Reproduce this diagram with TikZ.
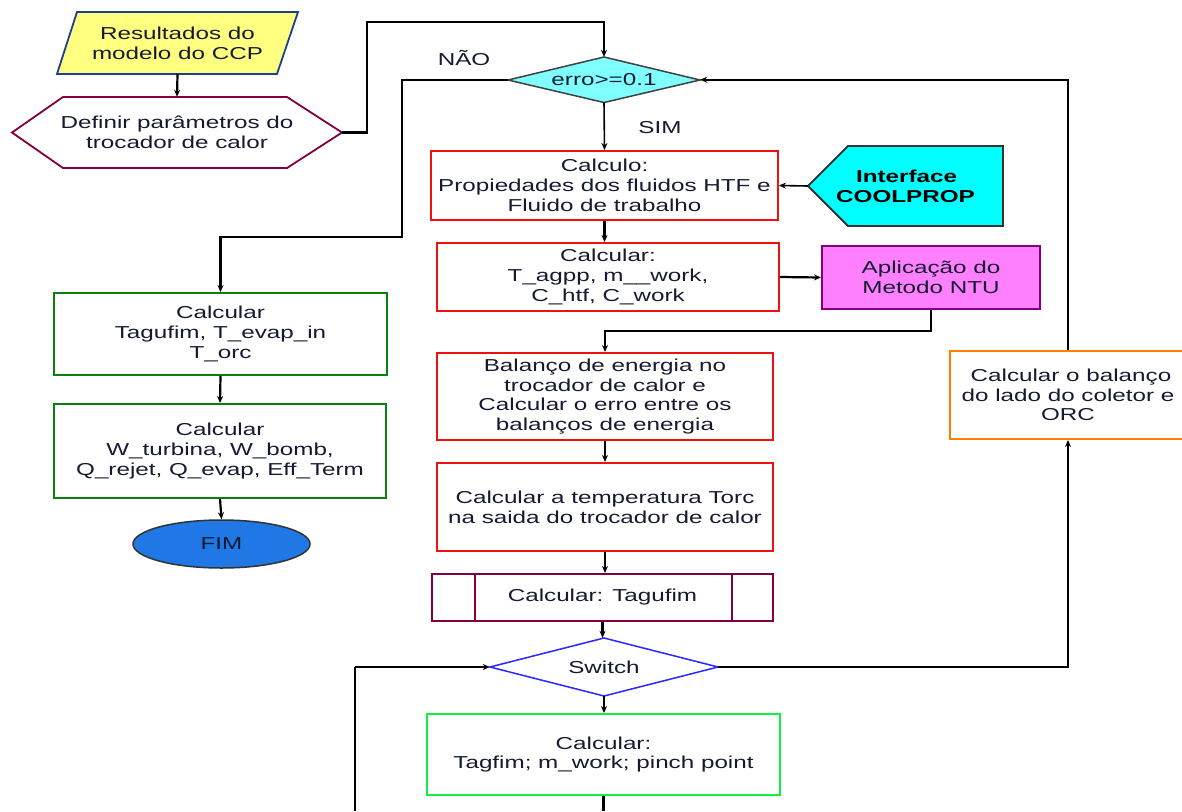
\documentclass[tikz,border=0pt]{standalone}
\usepackage{fontspec}
\setmainfont[FakeStretch=1.4]{Liberation Sans}
\usetikzlibrary{shapes.geometric,arrows.meta}

\definecolor{ink}{HTML}{151A30}
\definecolor{paperyellow}{HTML}{FFFF80}
\definecolor{navyline}{HTML}{1F3F8F}
\definecolor{maroon}{HTML}{800040}
\definecolor{lightcyan}{HTML}{80FFFF}
\definecolor{brightcyan}{HTML}{00FFFF}
\definecolor{boxred}{HTML}{F01010}
\definecolor{ntufill}{HTML}{FF80FF}
\definecolor{ntuline}{HTML}{800080}
\definecolor{darkgreen}{HTML}{0A8010}
\definecolor{brightgreen}{HTML}{10F040}
\definecolor{fimblue}{HTML}{1F78E6}
\definecolor{switchblue}{HTML}{2828FF}
\definecolor{orangeline}{HTML}{FF8000}

\begin{document}
\begin{tikzpicture}[x=1pt,y=-1pt,
  txt/.style={font=\fontsize{17.3}{19.8}\selectfont, text=ink, align=center},
  box/.style={txt, draw, rectangle, line width=2pt, inner sep=0pt},
  spot/.style={txt, rectangle, inner sep=0pt},
  conn/.style={line width=2.2pt, draw=black},
  arr/.style={conn, -{Stealth[length=7pt,width=6pt]}},
  lbl/.style={font=\fontsize{17.3}{19.8}\selectfont, text=ink},
]
\useasboundingbox (0,0) rectangle (1182,811);
\fill[white] (0,0) rectangle (1182,811);

% ---- input and parameter definition ----
\draw[fill=paperyellow, draw=navyline, line width=1.8pt]
  (77,12) -- (298,12) -- (277,74) -- (57,74) -- cycle;
\node[spot, minimum width=241pt, minimum height=62pt] (para) at (177.5,43)
  {Resultados do\\modelo do CCP};

\draw[draw=maroon, line width=1.8pt]
  (12,132.5) -- (63,97) -- (287,97) -- (342,132.5) -- (287,168) -- (63,168) -- cycle;
\node[spot, minimum width=330pt, minimum height=71pt] (hex) at (177,132.5)
  {Definir parâmetros do\\trocador de calor};

% ---- main decision ----
\draw[fill=lightcyan, draw=black!75, line width=1.5pt]
  (508,80) -- (604,57) -- (700,80) -- (604,102.5) -- cycle;
\node[spot, minimum width=192pt, minimum height=45.5pt] (d1) at (604,79.75) {erro>=0.1};

\node[lbl] (nao) at (464,58) {NÃO};
\node[lbl] (sim) at (660,128) {SIM};

% ---- main column ----
\node[box, draw=boxred, minimum width=347pt, minimum height=69pt] (calc1) at (604.5,185.5)
  {Calculo:\\Propiedades dos fluidos HTF e\\Fluido de trabalho};

\draw[fill=brightcyan, draw=black!80, line width=1.8pt]
  (808,186) -- (848,146) -- (1003,146) -- (1003,226) -- (848,226) -- cycle;
\node[spot, font=\fontsize{17.3}{19.8}\selectfont\bfseries, text=black,
      minimum width=195pt, minimum height=80pt] (cool) at (905.5,186)
  {\hspace*{2pt}Interface\\COOLPROP};
\coordinate (cooltip) at (808,186);

\node[box, draw=boxred, minimum width=342pt, minimum height=68pt] (calc2) at (608,277)
  {Calcular:\\T\_agpp, m\_\_work,\\C\_htf, C\_work};

\node[box, draw=ntuline, fill=ntufill, minimum width=218pt, minimum height=63pt] (ntu) at (931,277.5)
  {Aplicação do\\Metodo NTU};

\node[box, draw=boxred, minimum width=336pt, minimum height=87pt] (bal) at (605,396.5)
  {Balanço de energia no\\trocador de calor e\\Calcular o erro entre os\\balanços de energia};

\node[box, draw=boxred, minimum width=336pt, minimum height=88pt] (torc) at (605,507)
  {Calcular a temperatura Torc\\na saida do trocador de calor};

\node[box, draw=maroon, minimum width=341pt, minimum height=47pt] (pp) at (602.5,597.5)
  {Calcular: Tagufim};
\draw[draw=maroon, line width=2pt] (475,574) -- (475,621) (732,574) -- (732,621);

\draw[draw=switchblue, line width=1.5pt]
  (490,667) -- (604,638) -- (718,667) -- (604,696) -- cycle;
\node[spot, minimum width=228pt, minimum height=58pt] (sw) at (604,667) {Switch};

\node[box, draw=brightgreen, minimum width=353pt, minimum height=81pt] (grn) at (603.5,754.5)
  {Calcular:\\Tagfim; m\_work; pinch point};

\node[box, draw=orangeline, minimum width=236pt, minimum height=88pt] (orc) at (1068,395)
  {\hspace*{6pt}Calcular o balanço\\do lado do coletor e\\ORC};

% ---- exit column ----
\node[box, draw=darkgreen, minimum width=333pt, minimum height=82pt] (c1) at (220.5,334)
  {Calcular\\Tagufim, T\_evap\_in\\T\_orc};
\node[box, draw=darkgreen, minimum width=332pt, minimum height=94pt] (c2) at (220,451)
  {Calcular\\W\_turbina, W\_bomb,\\Q\_rejet, Q\_evap, Eff\_Term};
\node[txt, ellipse, draw=black!80, fill=fimblue, line width=1.5pt, inner sep=0pt,
      minimum width=177pt, minimum height=48pt] (fim) at (221.5,544) {FIM};

% ---- connectors ----
\coordinate (j1) at (367,22);
\coordinate (j2) at (402,237);
\coordinate (j3) at (605,331);
\coordinate (loopfoot) at (355,811);
\coordinate (grnfoot) at (603.5,811);

\draw[arr] (para.south) -- (hex.north);
\draw[arr] (hex.east) -| (j1) -| (d1.north);
\draw[arr] (d1.west) -| (j2) -| (c1.north);
\draw[arr] (c1.south) -- (c2.north);
\draw[arr] (c2.south) -- (fim.north);

\draw[arr, line width=1.6pt] (d1.south) -- (calc1.north);
\draw[arr, line width=1.6pt] (cooltip) -- (calc1.east);
\draw[arr] (calc1.south) -- (calc1.south |- calc2.north);
\draw[arr] (calc2.east) -- (ntu.west);
\draw[arr] (ntu.south) |- (j3) -- (bal.north);
\draw[arr] (bal.south) -- (torc.north);
\draw[arr] (torc.south) -- (torc.south |- pp.north);
\draw[arr] (pp.south) -- (pp.south |- sw.north);
\draw[arr] (sw.south) -- (sw.south |- grn.north);
\draw[conn] (grn.south) -- (grnfoot);

\draw[conn] (loopfoot) -- (loopfoot |- sw.west);
\draw[arr, line width=1.4pt] (loopfoot |- sw.west) -- (sw.west);
\draw[arr, line width=1.4pt] (sw.east) -| (orc.south);
\draw[arr] (orc.north) |- (d1.east);
\end{tikzpicture}
\end{document}
